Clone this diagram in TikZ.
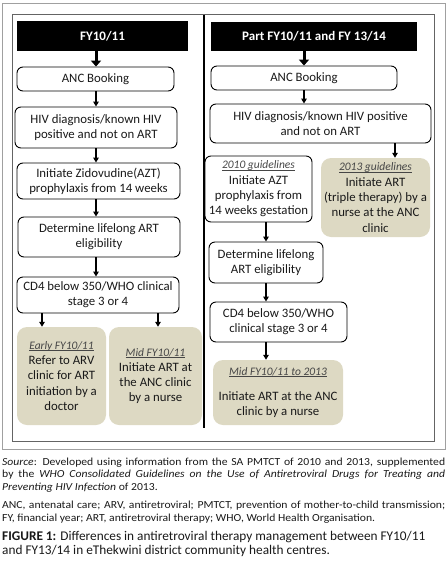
\documentclass[tikz,border=0pt]{standalone}
\usepackage{fontspec}
\setmainfont{Carlito}
\newfontfamily\fnfont{Carlito}[FakeStretch=1.08]
\usetikzlibrary{arrows.meta}
\definecolor{tanfill}{RGB}{221,217,195}
\definecolor{framegray}{RGB}{160,160,160}
\definecolor{innergray}{RGB}{100,100,100}
\definecolor{txtcol}{RGB}{25,25,25}
\definecolor{ttlcol}{RGB}{70,70,70}
\newcommand\boxtitle[1]{{\color{ttlcol}\fontsize{11.5}{14}\selectfont\itshape\setbox0\hbox{#1}\rlap{\rule[-1.3pt]{\wd0}{0.5pt}}\box0}}
\begin{document}
\begin{tikzpicture}[x=1pt,y=-1pt,
  box/.style={draw=black, line width=0.9pt, rounded corners=6pt, inner sep=0pt, align=center,
    font=\fontsize{12.8}{15.3}\selectfont, text=txtcol},
  tanbox/.style={fill=tanfill, rounded corners=10pt, inner sep=0pt, align=center,
    font=\fontsize{12.8}{15.3}\selectfont, text=txtcol},
  hdr/.style={fill=black, inner sep=0pt, text=white, font=\fontsize{13}{15}\selectfont\bfseries},
  arr/.style={line width=1.1pt, -{Triangle[width=5.5pt,length=5pt]}},
  bigarr/.style={line width=3pt, -{Triangle[width=10pt,length=6pt]}},
  note/.style={inner sep=0pt, anchor=north west, text=txtcol}
]
\useasboundingbox (0,0) rectangle (447,563);
% frames
\draw[framegray, line width=0.8pt] (2,3) rectangle (445,449);
\draw[innergray, line width=0.8pt] (12,14.5) rectangle (434,441);
\draw[line width=2.2pt] (204,14.5) -- (204,428);

% left column
\node[hdr, minimum width=171pt, minimum height=30pt] (hdrL) at (102.5,36) {FY10/11};
\node[box, minimum width=157pt, minimum height=24pt] (anc1) at (95.5,79) {ANC Booking};
\node[box, minimum width=162pt, minimum height=41pt] (hiv1) at (96,127.5) {HIV diagnosis/known HIV\\positive and not on ART};
\node[box, minimum width=163pt, minimum height=36pt] (azt1) at (98.5,181) {Initiate Zidovudine(AZT)\\prophylaxis from 14 weeks};
\node[box, minimum width=162pt, minimum height=40pt] (det1) at (99,237) {Determine lifelong ART\\eligibility};
\node[box, minimum width=162pt, minimum height=36pt] (cd41) at (98,295) {CD4 below 350/WHO clinical\\stage 3 or 4};
\node[tanbox, minimum width=89pt, minimum height=98pt] (early) at (61.5,376) {\boxtitle{Early FY10/11}\\Refer to ARV\\clinic for ART\\initiation by a\\doctor};
\node[tanbox, minimum width=93pt, minimum height=98pt] (mid) at (155.5,376) {\boxtitle{Mid FY10/11}\\Initiate ART at\\the ANC clinic\\by a nurse};

% right column
\node[hdr, minimum width=206pt, minimum height=29pt] (hdrR) at (314,36.5) {Part FY10/11 and FY 13/14};
\node[box, minimum width=186pt, minimum height=24pt] (anc2) at (304,78) {ANC Booking};
\node[box, minimum width=221pt, minimum height=39pt] (hiv2) at (320.5,123.5) {HIV diagnosis/known HIV positive\\and not on ART};
\node[box, minimum width=107pt, minimum height=66pt] (g2010) at (258.5,189) {\boxtitle{2010 guidelines}\\Initiate AZT\\prophylaxis from\\14 weeks gestation};
\node[tanbox, minimum width=109pt, minimum height=79pt] (g2013) at (375.5,197.5) {\boxtitle{2013 guidelines}\\Initiate ART\\(triple therapy) by a\\nurse at the ANC\\clinic};
\node[box, minimum width=114pt, minimum height=41pt] (det2) at (266,262.5) {Determine lifelong\\ART eligibility};
\node[box, minimum width=137pt, minimum height=40pt] (cd42) at (278.5,322) {CD4 below 350/WHO\\clinical stage 3 or 4};
\node[tanbox, minimum width=130pt, minimum height=65pt] (mid2) at (278,392.5) {\boxtitle{Mid FY10/11 to 2013}\\[10pt]Initiate ART at the ANC\\clinic by a nurse};

% arrow columns
\coordinate (xL) at (96,0);
\coordinate (xE) at (42,0);
\coordinate (xM) at (158,0);
\coordinate (xR) at (304,0);
\coordinate (xT) at (395,0);
\coordinate (xC) at (266,0);

\draw[bigarr] (hdrL.south -| xL) -- (anc1.north -| xL);
\draw[arr] (anc1.south -| xL) -- (hiv1.north -| xL);
\draw[arr] (hiv1.south -| xL) -- (azt1.north -| xL);
\draw[arr] (azt1.south -| xL) -- (det1.north -| xL);
\draw[arr] (det1.south -| xL) -- (cd41.north -| xL);
\draw[arr] (cd41.south -| xE) -- (early.north -| xE);
\draw[arr] (cd41.south -| xM) -- (mid.north -| xM);

\draw[bigarr] (hdrR.south -| xR) -- (anc2.north -| xR);
\draw[arr] (anc2.south -| xR) -- (hiv2.north -| xR);
\draw[arr] (hiv2.south -| xT) -- (g2013.north -| xT);
\draw[arr] (g2010.south -| xC) -- (det2.north -| xC);
\draw[arr] (det2.south -| xC) -- (cd42.north -| xC);
\draw[arr] (cd42.south -| xC) -- (mid2.north -| xC);

% footnotes
\node[note, text width=443pt, align=justify, font=\fnfont\fontsize{10.8}{12.4}\selectfont] (fn) at (2,457.5)
{\tolerance=9999\emergencystretch=20pt\hbadness=10000
\textit{Source}: Developed using information from the SA PMTCT of 2010 and 2013, supplemented\linebreak
by the \textit{WHO Consolidated Guidelines on the Use of Antiretroviral Drugs for Treating and\linebreak
Preventing HIV Infection} of 2013.\par\vspace{6.5pt}
ANC, antenatal care; ARV, antiretroviral; PMTCT, prevention of mother-to-child transmission;\linebreak
FY, financial year; ART, antiretroviral therapy; WHO, World Health Organisation.};
\node[note, align=left, font=\fontsize{13.3}{14.5}\selectfont] (cap) at (2,531)
{\textbf{FIGURE 1:} Differences in antiretroviral therapy management between FY10/11\\
and FY13/14 in eThekwini district community health centres.};
\end{tikzpicture}
\end{document}
